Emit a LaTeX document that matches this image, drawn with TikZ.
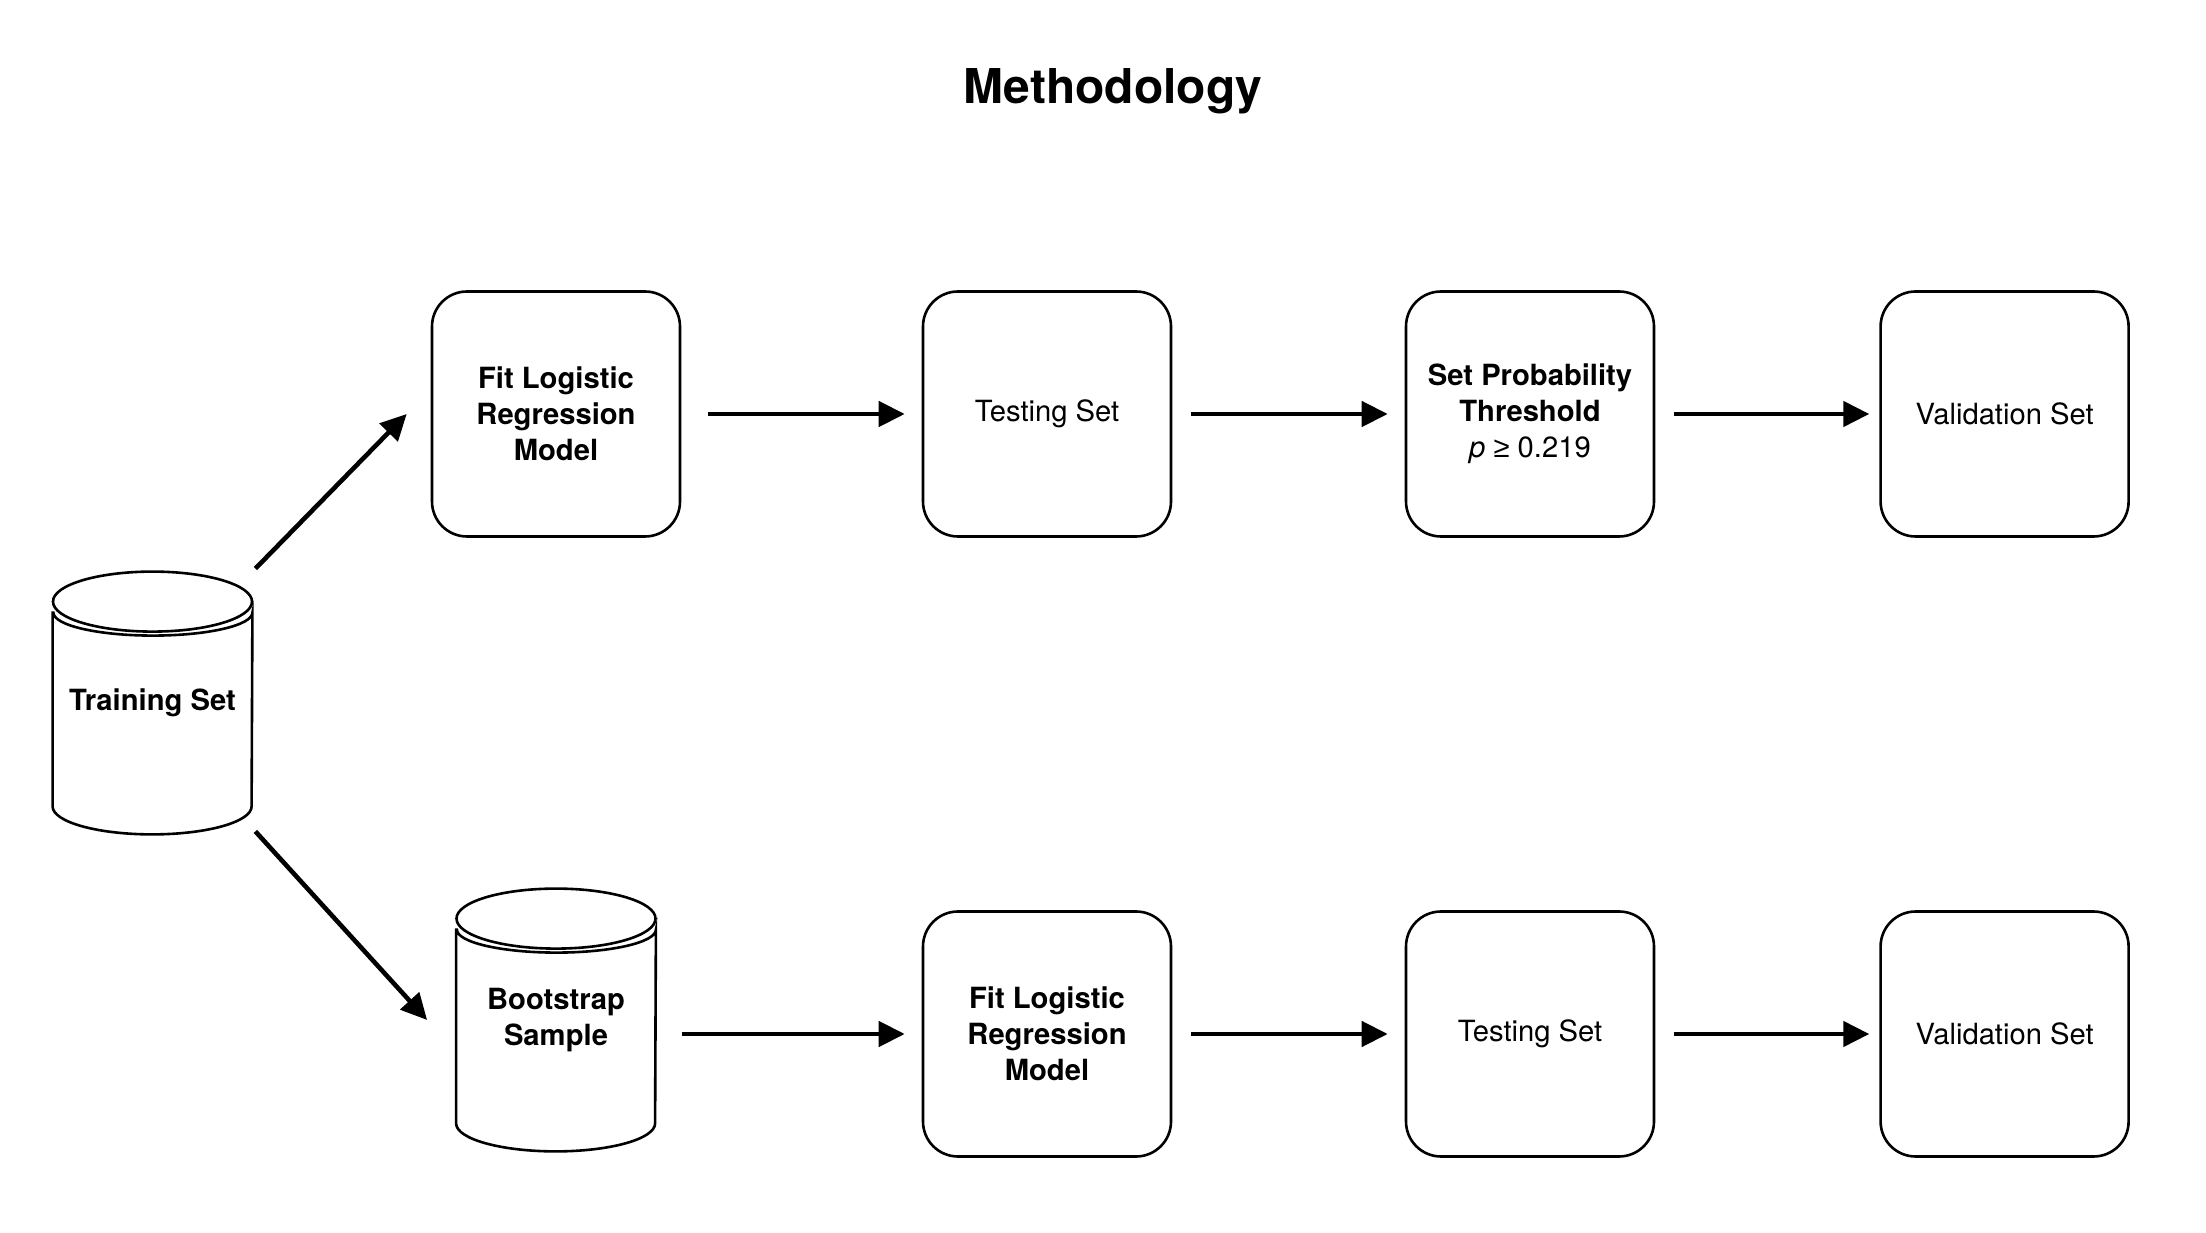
\documentclass[tikz,border=0pt]{standalone}
\usepackage{fontspec}
\setmainfont{TeX Gyre Heros}
\newfontfamily\symfont{Liberation Sans}
\usetikzlibrary{positioning, arrows.meta}
\usetikzlibrary{calc}
\tikzset{
box/.style={draw, line width=1.3pt, rounded corners=17.5pt, minimum width=124pt, minimum height=122.5pt, inner sep=0pt, align=center, font=\fontsize{14.6}{18}\selectfont}, % the rounded step boxes
boldbox/.style={box, font=\fontsize{14.6}{18}\selectfont\bfseries},
store/.style={minimum width=99.5pt, minimum height=131pt, inner sep=0pt, align=center, font=\fontsize{14.6}{18}\selectfont\bfseries}, % data store, outline drawn by \drawstore
flow/.style={-{Triangle[length=13pt, width=12.5pt]}, line width=2.3pt}, % thick arrows
node distance=241.5pt,
}
% outline of a data store (cylinder with double rim) around node #1
\newcommand{\drawstore}[1]{%
  \draw[line width=1.3pt] ($(#1.north)+(0,-15pt)$) ellipse [x radius=49.75pt, y radius=15pt];
  \draw[line width=1.3pt] ($(#1.north west)+(0,-20.5pt)$) -- ($(#1.south west)+(0,14pt)$)
    arc[start angle=180, end angle=360, x radius=49.75pt, y radius=14pt]
    -- ($(#1.north east)+(0,-20.5pt)$)
    arc[start angle=0, end angle=-180, x radius=49.75pt, y radius=11.5pt] -- cycle;
}

\begin{document}
\begin{tikzpicture}[x=1pt, y=1pt]
    \useasboundingbox (0,0) rectangle (1103,616);
    \node[font=\fontsize{24}{29}\selectfont\bfseries] (title) at (556.5,570.5) {Methodology};
    % data stores
    \node[store] (train) at (76.25,264.5) {Training Set};
    \node[store] (boot) at (278,106) {Bootstrap\\Sample};
    \drawstore{train}
    \drawstore{boot}
    % upper row
    \node[boldbox] (fit1) at (278,409) {Fit Logistic\\Regression\\Model};
    \node[box, right of=fit1, node distance=245.5pt] (test1) {Testing Set};
    \node[boldbox, right of=test1] (thresh) {Set Probability\\Threshold\\\mdseries\textit{p} {\symfont ≥} 0.219};
    \node[box, right of=thresh, node distance=237.3pt] (valid1) {Validation Set};
    % lower row
    \node[boldbox, below of=test1, node distance=310pt] (fit2) {Fit Logistic\\Regression\\Model};
    \node[box, right of=fit2] (test2) {Testing Set};
    \node[box, right of=test2, node distance=237.3pt] (valid2) {Validation Set};
    \draw[flow] ([shift={(1.5pt,1.5pt)}]train.north east) -- ([xshift=-12pt]fit1.west);
    \draw[flow] ([shift={(1.5pt,1.5pt)}]train.south east) -- ([xshift=-14.5pt]boot.west);
    \draw[flow, shorten <=13.5pt, shorten >=8.5pt] (fit1) -- (test1);
    \draw[flow, shorten <=9.5pt, shorten >=8.5pt] (test1) -- (thresh);
    \draw[flow, shorten <=9.5pt, shorten >=5pt] (thresh) -- (valid1);
    \draw[flow, shorten <=13pt, shorten >=8.5pt] (boot.east |- fit2.west) -- (fit2.west);
    \draw[flow, shorten <=9.5pt, shorten >=8.5pt] (fit2) -- (test2);
    \draw[flow, shorten <=9.5pt, shorten >=5pt] (test2) -- (valid2);
\end{tikzpicture}
\end{document}
